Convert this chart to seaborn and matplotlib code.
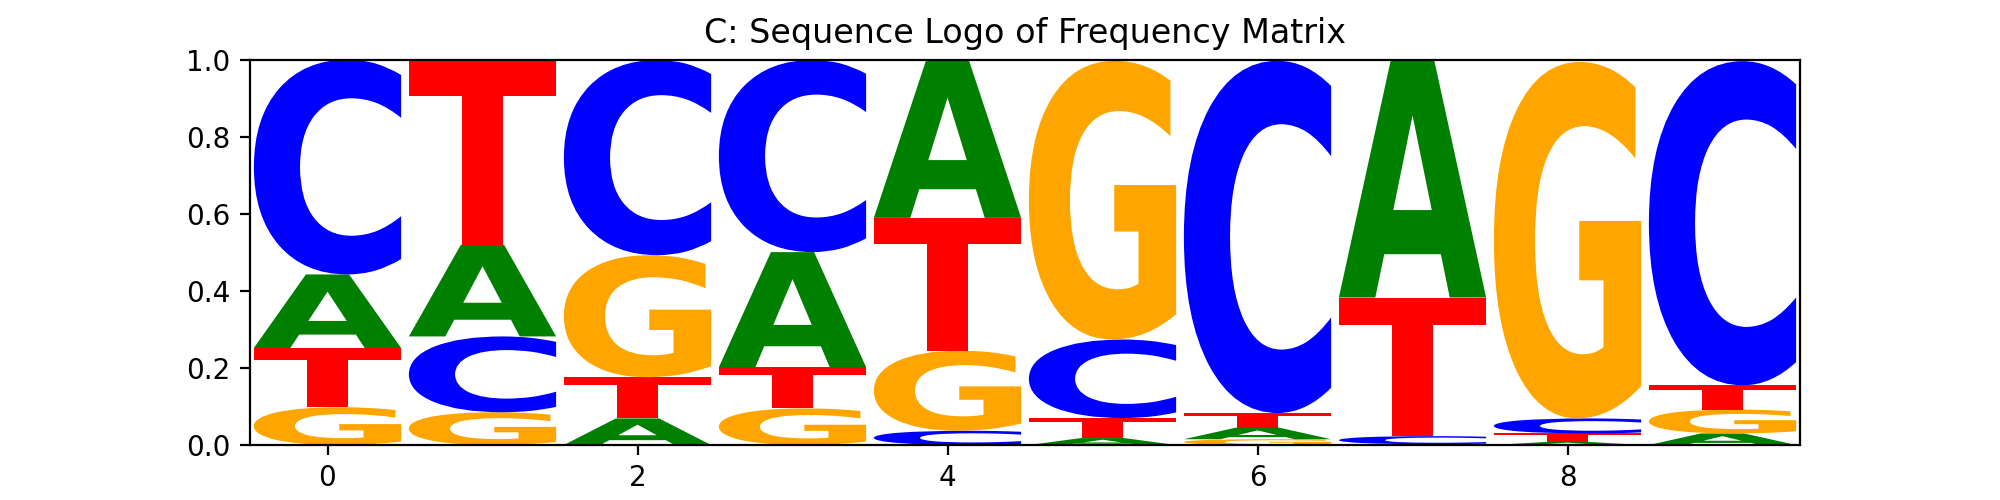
import numpy as np
import pandas as pd
import matplotlib
matplotlib.use("Agg")
import matplotlib.pyplot as plt
import seaborn as sns
from matplotlib.textpath import TextPath
from matplotlib.font_manager import FontProperties
from matplotlib.patches import PathPatch
from matplotlib.transforms import Affine2D

# Frequency matrix (positions x bases)
positions = list(range(10))
freq_A = [0.191, 0.238, 0.069, 0.299, 0.408, 0.018, 0.030, 0.618, 0.008, 0.030]
freq_C = [0.558, 0.197, 0.507, 0.499, 0.037, 0.204, 0.915, 0.021, 0.039, 0.842]
freq_G = [0.098, 0.085, 0.317, 0.095, 0.208, 0.724, 0.015, 0.002, 0.926, 0.062]
freq_T = [0.154, 0.480, 0.107, 0.107, 0.345, 0.052, 0.038, 0.360, 0.022, 0.063]

colors = {'A': 'green', 'C': 'blue', 'G': 'orange', 'T': 'red'}
title = 'C: Sequence Logo of Frequency Matrix'


def draw_glyph(ax, letter, x, bottom, height, width=0.95):
    # stretch the letter outline so it fills its box exactly
    prop = FontProperties(family='DejaVu Sans', weight='bold')
    path = TextPath((0, 0), letter, size=1, prop=prop)
    ext = path.get_extents()
    tr = (Affine2D()
          .translate(-ext.x0, -ext.y0)
          .scale(width / ext.width, height / ext.height)
          .translate(x - width / 2, bottom))
    patch = PathPatch(tr.transform_path(path), facecolor=colors[letter],
                      edgecolor='none', linewidth=0)
    ax.add_patch(patch)


def main():
    df = pd.DataFrame({'A': freq_A, 'C': freq_C, 'G': freq_G, 'T': freq_T},
                      index=positions)

    sns.set_style('ticks', {'axes.edgecolor': 'black', 'xtick.color': 'black',
                            'ytick.color': 'black', 'text.color': 'black',
                            'axes.labelcolor': 'black'})
    plt.rcParams['font.family'] = ['DejaVu Sans']

    fig, ax = plt.subplots(figsize=(10, 2.5), dpi=200)

    # stack letters smallest at the bottom
    for pos, row in df.iterrows():
        bottom = 0.0
        for letter, val in row.sort_values().items():
            if val > 0:
                draw_glyph(ax, letter, pos, bottom, val)
            bottom += val

    ax.set_xlim(-0.5, len(positions) - 0.5)
    ax.set_ylim(0, 1)
    ax.set_xticks([0, 2, 4, 6, 8])
    ax.set_yticks([0.0, 0.2, 0.4, 0.6, 0.8, 1.0])
    ax.tick_params(labelsize=10, length=3.5, width=0.8)
    for s in ax.spines.values():
        s.set_linewidth(0.8)
    ax.set_title(title, fontsize=12)

    fig.subplots_adjust(left=0.125, right=0.9, top=0.88, bottom=0.11)
    fig.savefig('out.png', dpi=200)


if __name__ == "__main__":
    main()
